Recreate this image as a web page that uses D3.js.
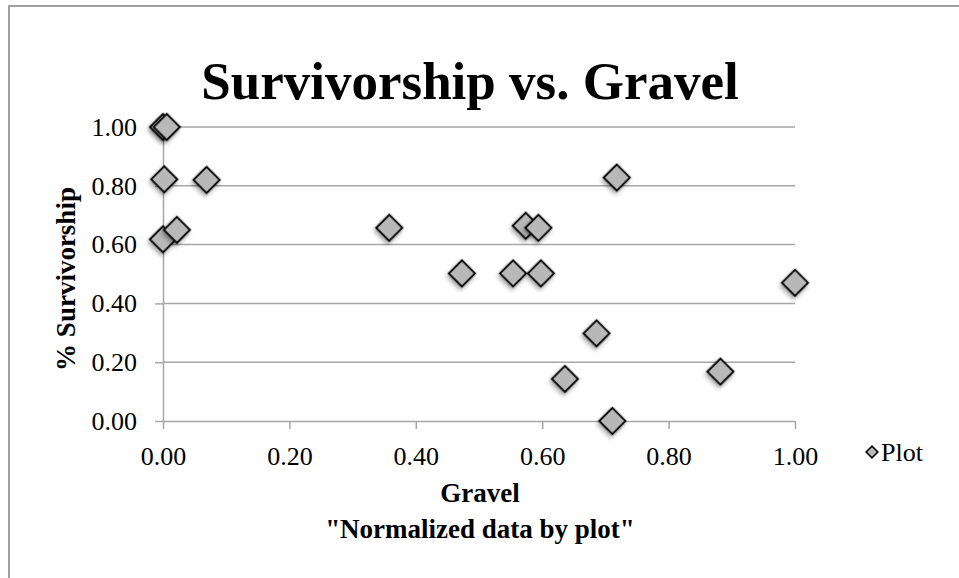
<!DOCTYPE html>
<html>
<head>
<meta charset="utf-8">
<script src="https://cdn.jsdelivr.net/npm/d3@7"></script>
<style>
  body { margin:0; background:#fff; }
  svg text { font-family: "Liberation Serif", "DejaVu Serif", serif; fill:#000; }
</style>
</head>
<body>
<svg id="chart" width="959" height="578"></svg>
<script>
// values
let gravel   = [0.000, 0.006, 0.002, 0.069, 0.000, 0.022, 0.358, 0.574, 0.594,
                0.473, 0.554, 0.598, 0.718, 0.686, 1.000, 0.882, 0.711, 0.636];
let survival = [1.000, 1.000, 0.822, 0.820, 0.618, 0.650, 0.657, 0.664, 0.657,
                0.502, 0.502, 0.502, 0.828, 0.298, 0.470, 0.168, 0.000, 0.143];
let xTicks = [0, 0.2, 0.4, 0.6, 0.8, 1.0];
let yTicks = [0, 0.2, 0.4, 0.6, 0.8, 1.0];
let seriesName = "Plot";

const W=959, H=578;
const svg=d3.select("#chart");
const gridCol="#a6a6a6";

// shadow for markers
let defs=svg.append("defs");
let f=defs.append("filter").attr("id","shadow").attr("x","-50%").attr("y","-50%").attr("width","200%").attr("height","200%");
f.append("feDropShadow").attr("dx",1).attr("dy",3).attr("stdDeviation",2).attr("flood-color","#000").attr("flood-opacity",0.35);

svg.append("rect").attr("width",W).attr("height",H).attr("fill","#fff");
// chart frame (only left and top edges show)
svg.append("path").attr("d","M9,"+H+"V6H"+W).attr("fill","none").attr("stroke","#a0a0a0").attr("stroke-width",2);

const x=d3.scaleLinear().domain([0,1]).range([163,795]);
const y=d3.scaleLinear().domain([0,1]).range([421,127]);

// gridlines
svg.append("g").selectAll("line").data(yTicks.filter(d=>d>0)).join("line")
  .attr("x1",x(0)).attr("x2",x(1)).attr("y1",d=>y(d)).attr("y2",d=>y(d))
  .attr("stroke",gridCol).attr("stroke-width",1.5);

const fmt=d3.format(".2f");
let xa=svg.append("g").attr("transform","translate(0,"+y(0)+")")
  .call(d3.axisBottom(x).tickValues(xTicks).tickFormat(fmt).tickSize(8).tickSizeOuter(0).tickPadding(18));
let ya=svg.append("g").attr("transform","translate("+x(0)+",0)")
  .call(d3.axisLeft(y).tickValues(yTicks).tickFormat(fmt).tickSize(8).tickSizeOuter(0).tickPadding(18));
[xa,ya].forEach(a=>{
  a.selectAll("path,line").attr("stroke",gridCol).attr("stroke-width",1.5);
  a.selectAll("text").attr("font-size",26).attr("font-family",null).attr("fill","#000");
});

// markers
const sym=d3.symbol().type(d3.symbolSquare).size(340);
svg.append("g").selectAll("path").data(gravel.map((g,i)=>[g,survival[i]])).join("path")
  .attr("d",sym)
  .attr("transform",d=>"translate("+x(d[0])+","+y(d[1])+") rotate(45)")
  .attr("fill","#b8b8b8").attr("stroke","#000").attr("stroke-width",2)
  .attr("filter","url(#shadow)");

// titles
svg.append("text").attr("x",470).attr("y",99).attr("text-anchor","middle")
  .attr("font-size",53).attr("font-weight","bold").text("Survivorship vs. Gravel");
svg.append("text").attr("transform","translate(75,279) rotate(-90)").attr("text-anchor","middle")
  .attr("font-size",27).attr("font-weight","bold").text("% Survivorship");
svg.append("text").attr("x",480).attr("y",502).attr("text-anchor","middle")
  .attr("font-size",27).attr("font-weight","bold").text("Gravel");
svg.append("text").attr("x",480).attr("y",538).attr("text-anchor","middle")
  .attr("font-size",27).attr("font-weight","bold").text("\"Normalized data by plot\"");

// legend
let lg=svg.append("g").attr("transform","translate(872,452)");
lg.append("path").attr("d",d3.symbol().type(d3.symbolSquare).size(70)).attr("transform","rotate(45)")
  .attr("fill","#b8b8b8").attr("stroke","#000").attr("stroke-width",1.5);
lg.append("text").attr("x",9).attr("y",9).attr("font-size",26).text(seriesName);
</script>
</body>
</html>
